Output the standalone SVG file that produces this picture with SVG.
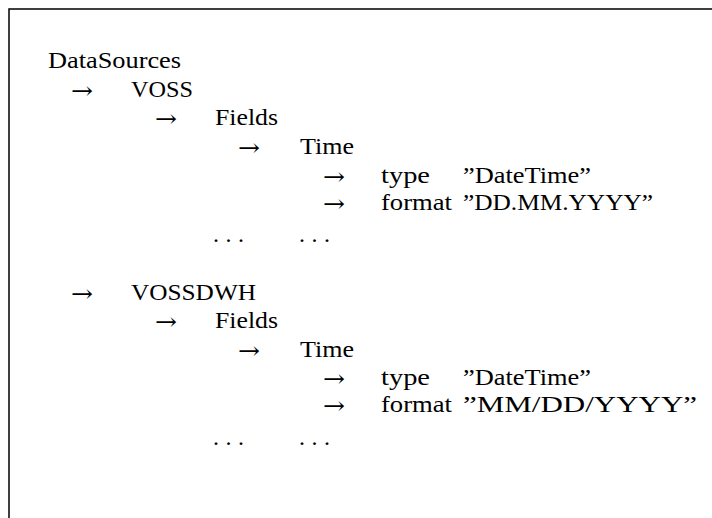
<svg xmlns="http://www.w3.org/2000/svg" width="712" height="518" viewBox="0 0 712 518">
<style>
.t{font-family:"Liberation Serif","Times New Roman",serif;font-size:24px;fill:#000}
.arr{font-family:"DejaVu Serif","DejaVu Sans",serif;font-size:24px;fill:#000}
.frame{stroke:#000;stroke-width:1.5;fill:none}
</style>
<rect x="0" y="0" width="712" height="518" fill="#fff"/>
<path class="frame" d="M9 518V9H712"/>
<g id="datasources"><text class="t" x="48" y="68" textLength="133" lengthAdjust="spacingAndGlyphs">DataSources</text></g>
<g id="connectors">
<text class="arr" x="71" y="99" textLength="22" lengthAdjust="spacingAndGlyphs">→</text>
<text class="arr" x="155" y="127" textLength="22" lengthAdjust="spacingAndGlyphs">→</text>
<text class="arr" x="238" y="156" textLength="22" lengthAdjust="spacingAndGlyphs">→</text>
<text class="arr" x="323" y="185" textLength="22" lengthAdjust="spacingAndGlyphs">→</text>
<text class="arr" x="323" y="212" textLength="22" lengthAdjust="spacingAndGlyphs">→</text>
<text class="arr" x="71" y="302" textLength="22" lengthAdjust="spacingAndGlyphs">→</text>
<text class="arr" x="155" y="330" textLength="22" lengthAdjust="spacingAndGlyphs">→</text>
<text class="arr" x="238" y="359" textLength="22" lengthAdjust="spacingAndGlyphs">→</text>
<text class="arr" x="323" y="387" textLength="22" lengthAdjust="spacingAndGlyphs">→</text>
<text class="arr" x="323" y="414" textLength="22" lengthAdjust="spacingAndGlyphs">→</text>
</g>
<g id="voss">
<text class="t" x="131" y="97" textLength="62" lengthAdjust="spacingAndGlyphs">VOSS</text>
<g id="voss-fields"><text class="t" x="215" y="125" textLength="63" lengthAdjust="spacingAndGlyphs">Fields</text></g>
<g id="voss-time"><text class="t" x="300" y="154" textLength="54" lengthAdjust="spacingAndGlyphs">Time</text></g>
<g id="voss-type"><text class="t" x="381" y="183" textLength="49" lengthAdjust="spacingAndGlyphs">type</text><text class="t" x="463" y="183" textLength="128" lengthAdjust="spacingAndGlyphs">”DateTime”</text></g>
<g id="voss-format"><text class="t" x="381" y="210" textLength="71" lengthAdjust="spacingAndGlyphs">format</text><text class="t" x="463" y="210" textLength="190" lengthAdjust="spacingAndGlyphs">”DD.MM.YYYY”</text></g>
<g id="voss-dots"><text class="t" x="213" y="242" textLength="31" lengthAdjust="spacing">...</text><text class="t" x="299" y="242" textLength="31" lengthAdjust="spacing">...</text></g>
</g>
<g id="vossdwh">
<text class="t" x="131" y="300" textLength="125" lengthAdjust="spacingAndGlyphs">VOSSDWH</text>
<g id="vossdwh-fields"><text class="t" x="215" y="328" textLength="63" lengthAdjust="spacingAndGlyphs">Fields</text></g>
<g id="vossdwh-time"><text class="t" x="300" y="357" textLength="54" lengthAdjust="spacingAndGlyphs">Time</text></g>
<g id="vossdwh-type"><text class="t" x="381" y="385" textLength="49" lengthAdjust="spacingAndGlyphs">type</text><text class="t" x="463" y="385" textLength="128" lengthAdjust="spacingAndGlyphs">”DateTime”</text></g>
<g id="vossdwh-format"><text class="t" x="381" y="412" textLength="71" lengthAdjust="spacingAndGlyphs">format</text><text class="t" x="463" y="412" textLength="234" lengthAdjust="spacingAndGlyphs">”MM/DD/YYYY”</text></g>
<g id="vossdwh-dots"><text class="t" x="213" y="445" textLength="31" lengthAdjust="spacing">...</text><text class="t" x="299" y="445" textLength="31" lengthAdjust="spacing">...</text></g>
</g>
</svg>
